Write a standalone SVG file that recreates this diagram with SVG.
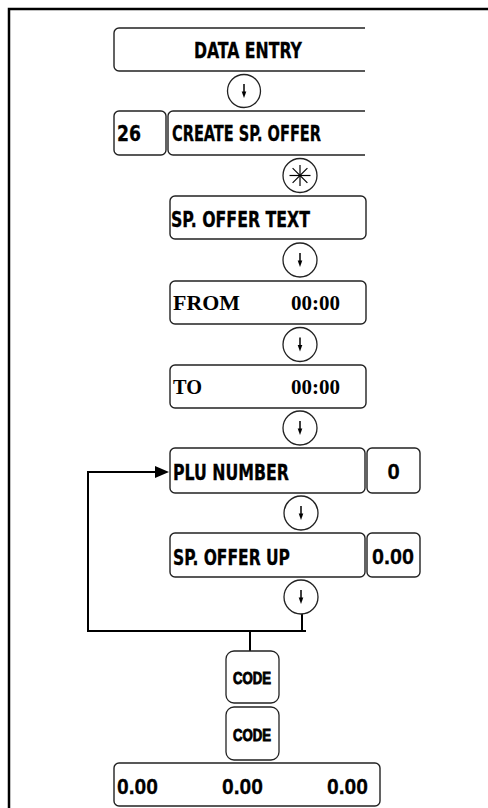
<svg xmlns="http://www.w3.org/2000/svg" width="488" height="808" viewBox="0 0 488 808">
<style>
.box{fill:#fff;stroke:#222;stroke-width:1.4}
.open{fill:none;stroke:#222;stroke-width:1.4}
.t{font-family:"DejaVu Sans","Liberation Sans",sans-serif;font-stretch:condensed;font-weight:bold;font-size:22px;fill:#000;stroke:#000;stroke-width:0.3}
.n{font-family:"Liberation Sans",Arial,sans-serif;font-weight:bold;font-size:22px;fill:#000;stroke:#000;stroke-width:0.3}
.s{font-family:"Liberation Serif","Times New Roman",serif;font-weight:bold;font-size:22px;fill:#000}
.c{font-family:"Liberation Sans",Arial,sans-serif;font-weight:bold;font-size:16px;fill:#000;stroke:#000;stroke-width:0.9}
.key{fill:#fff;stroke:#222;stroke-width:1.3}
.ln{fill:none;stroke:#000;stroke-width:2}
</style>
<defs>
<g id="down">
<line x1="0" y1="-7" x2="0" y2="2" stroke="#000" stroke-width="1.5"/>
<polygon points="-2.3,0.5 2.3,0.5 0,7" fill="#000"/>
</g>
</defs>
<path d="M9,808 V9 H488" fill="none" stroke="#000" stroke-width="2.5"/>

<g id="connectors">
<polyline class="ln" points="88,631 88,472 156,472"/>
<polygon points="155,466 169,472 155,478" fill="#000"/>
<line class="ln" x1="87" y1="631" x2="306" y2="631"/>
<line class="ln" x1="302" y1="613" x2="302" y2="631"/>
<line class="ln" x1="250" y1="631" x2="250" y2="651"/>
</g>

<g id="data-entry">
<path class="open" d="M365,28 H119 A5,5 0 0 0 114,33 V66 A5,5 0 0 0 119,71 H365"/>
<text class="t" x="194" y="58" textLength="108" lengthAdjust="spacingAndGlyphs">DATA ENTRY</text>
</g>
<g id="k1"><circle class="key" cx="244" cy="91" r="16.5"/><use href="#down" x="244" y="91"/></g>

<g id="code26">
<rect class="box" x="114" y="111" width="52" height="44" rx="5"/>
<text class="t" x="117" y="141" textLength="24" lengthAdjust="spacingAndGlyphs">26</text>
</g>
<g id="create">
<path class="open" d="M365,111 H173 A5,5 0 0 0 168,116 V150 A5,5 0 0 0 173,155 H365"/>
<text class="t" x="172" y="141" textLength="149" lengthAdjust="spacingAndGlyphs">CREATE SP. OFFER</text>
</g>
<g id="k2"><circle class="key" cx="300" cy="175.5" r="17"/>
<g stroke="#000" stroke-width="1.2">
<line x1="300" y1="165" x2="300" y2="186"/>
<line x1="289.5" y1="175.5" x2="310.5" y2="175.5"/>
<line x1="292.6" y1="168.1" x2="307.4" y2="182.9"/>
<line x1="292.6" y1="182.9" x2="307.4" y2="168.1"/>
</g></g>

<g id="offer-text">
<rect class="box" x="170" y="196" width="196" height="43" rx="5"/>
<text class="t" x="171" y="227" textLength="139" lengthAdjust="spacingAndGlyphs">SP. OFFER TEXT</text>
</g>
<g id="k3"><circle class="key" cx="300" cy="260" r="17"/><use href="#down" x="300" y="260"/></g>

<g id="from">
<rect class="box" x="170" y="281" width="196" height="43" rx="5"/>
<text class="s" x="173" y="310" textLength="67" lengthAdjust="spacingAndGlyphs">FROM</text>
<text class="s" x="291" y="310" textLength="49" lengthAdjust="spacingAndGlyphs">00:00</text>
</g>
<g id="k4"><circle class="key" cx="300" cy="344.5" r="17"/><use href="#down" x="300" y="344.5"/></g>

<g id="to">
<rect class="box" x="170" y="365" width="196" height="43" rx="5"/>
<text class="s" x="173" y="394" textLength="29" lengthAdjust="spacingAndGlyphs">TO</text>
<text class="s" x="291" y="394" textLength="49" lengthAdjust="spacingAndGlyphs">00:00</text>
</g>
<g id="k5"><circle class="key" cx="300" cy="428" r="17"/><use href="#down" x="300" y="428"/></g>

<g id="plu">
<rect class="box" x="170" y="448" width="195" height="45" rx="5"/>
<text class="t" x="173" y="480" textLength="116" lengthAdjust="spacingAndGlyphs">PLU NUMBER</text>
</g>
<g id="plu-val">
<rect class="box" x="367" y="448" width="53" height="45" rx="5"/>
<text class="n" x="393.5" y="479" text-anchor="middle" font-size="20">0</text>
</g>
<g id="k6"><circle class="key" cx="301" cy="513" r="17"/><use href="#down" x="301" y="513"/></g>

<g id="offer-up">
<rect class="box" x="170" y="533" width="195" height="44" rx="5"/>
<text class="t" x="173" y="565" textLength="117" lengthAdjust="spacingAndGlyphs">SP. OFFER UP</text>
</g>
<g id="offer-val">
<rect class="box" x="367" y="533" width="53" height="44" rx="5"/>
<text class="n" x="372" y="564" textLength="42" lengthAdjust="spacingAndGlyphs">0.00</text>
</g>
<g id="k7"><circle class="key" cx="301" cy="597" r="17"/><use href="#down" x="301" y="597"/></g>

<g id="code1">
<rect class="key" x="226" y="651" width="53" height="52" rx="8"/>
<text class="c" x="233" y="684" textLength="38" lengthAdjust="spacingAndGlyphs">CODE</text>
</g>
<g id="code2">
<rect class="key" x="226" y="707" width="53" height="53" rx="8"/>
<text class="c" x="233" y="741" textLength="38" lengthAdjust="spacingAndGlyphs">CODE</text>
</g>

<g id="totals">
<rect class="box" x="114" y="763" width="266" height="43" rx="5"/>
<text class="n" x="117" y="794" textLength="41" lengthAdjust="spacingAndGlyphs">0.00</text>
<text class="n" x="222" y="794" textLength="41" lengthAdjust="spacingAndGlyphs">0.00</text>
<text class="n" x="327" y="794" textLength="41" lengthAdjust="spacingAndGlyphs">0.00</text>
</g>
</svg>
